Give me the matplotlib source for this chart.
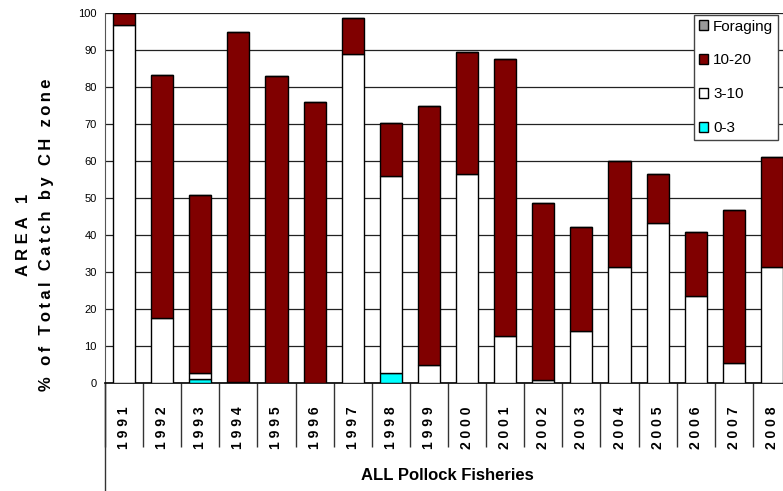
import numpy as np
import matplotlib.pyplot as plt
from matplotlib import font_manager

years = [str(y) for y in range(1991, 2009)]
zone_0_3 = [0, 0, 1.0, 0, 0, 0, 0, 2.6, 0, 0, 0, 0, 0, 0, 0, 0, 0, 0]
zone_3_10 = [96.8, 17.5, 1.6, 0.3, 0, 0, 88.9, 53.3, 4.9, 56.4, 12.7, 0.8, 14.1, 31.4, 43.3, 23.5, 5.5, 31.4]
zone_10_20 = [3.2, 65.7, 48.2, 94.7, 82.9, 75.9, 9.7, 14.4, 70.0, 33.0, 74.8, 47.8, 28.0, 28.7, 13.2, 17.2, 41.2, 29.7]
foraging = [0] * 18

fam = ["Liberation Sans", "DejaVu Sans"]
plt.rcParams["font.family"] = fam

fig = plt.figure(figsize=(7.83, 4.91), dpi=100)
ax = fig.add_axes([105 / 783, 108 / 491, 686 / 783, 370 / 491])

x = np.arange(len(years))
w = 0.58
b1 = np.array(zone_0_3)
b2 = b1 + np.array(zone_3_10)
b3 = b2 + np.array(zone_10_20)
kw = dict(width=w, edgecolor="black", linewidth=1, zorder=3)
ax.bar(x, zone_0_3, color="#00FFFF", label="0-3", **kw)
ax.bar(x, zone_3_10, bottom=b1, color="white", label="3-10", **kw)
ax.bar(x, zone_10_20, bottom=b2, color="#800000", label="10-20", **kw)
ax.bar(x, foraging, bottom=b3, color="#999999", label="Foraging", **kw)

ax.set_xlim(-0.5, len(years) - 0.5)
ax.set_ylim(0, 100)
ax.set_yticks(range(0, 101, 10))
ax.set_yticklabels([str(v) for v in range(0, 101, 10)], fontsize=8)
ax.tick_params(axis="y", length=0, pad=6)
ax.grid(axis="y", color="#222222", linewidth=0.9, zorder=0)

for s in ["top", "right"]:
    ax.spines[s].set_visible(False)
ax.spines["left"].set_color("#555555")
ax.spines["bottom"].set_linewidth(1.2)

# year labels + category separators (Excel style)
ax.set_xticks(x)
ax.set_xticklabels([" ".join(y) for y in years], rotation=90, fontweight="bold", fontsize=10)
ax.tick_params(axis="x", which="major", length=0, pad=17)
ax.set_xticks(np.arange(-0.5, len(years), 1), minor=True)
ax.tick_params(axis="x", which="minor", length=46, width=1, color="#333333", direction="out")
ax.plot([-0.5, -0.5], [0, -0.292], transform=ax.get_xaxis_transform(),
        color="#333333", linewidth=1, clip_on=False)

fig.text(447 / 783, (491 - 475) / 491, "ALL Pollock Fisheries", ha="center", va="center",
         fontsize=12, fontweight="bold")

fig.text(24 / 783, (491 - 235) / 491, "A R E A   1", rotation=90, ha="center", va="center",
         fontsize=12, fontweight="bold")
fig.text(47 / 783, (491 - 235) / 491, "\u2009".join("% of Total Catch by CH zone"), rotation=90,
         ha="center", va="center", fontsize=12, fontweight="bold")

h, l = ax.get_legend_handles_labels()
leg = ax.legend(h[::-1], l[::-1], loc="upper left",
                bbox_to_anchor=((694 - 105) / 686, (383 - 15) / 370),
                prop=font_manager.FontProperties(family=fam, size=11),
                handlelength=0.6, handleheight=0.6, handletextpad=0.35,
                labelspacing=1.3, borderpad=0.3, borderaxespad=0,
                fancybox=False, framealpha=1, edgecolor="#444444")
leg.get_frame().set_linewidth(1)
leg.set_zorder(5)

fig.savefig("out.png", dpi=100)
